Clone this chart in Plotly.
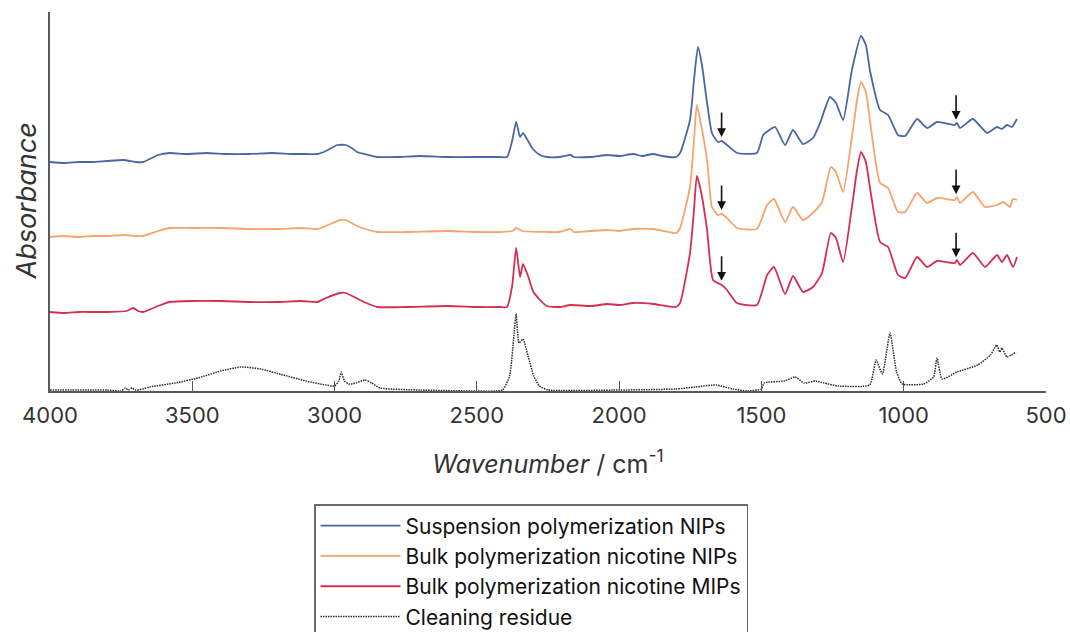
import numpy as np
import plotly.graph_objects as go

# FTIR spectra: wavenumber (cm^-1) and stacked absorbance (a.u.)
susp_wn = [4000, 3950, 3900, 3850, 3800, 3740, 3700, 3673, 3620, 3580, 3520, 3450,
           3380, 3300, 3220, 3150, 3100, 3060, 3030, 2990, 2960, 2935, 2921, 2880,
           2850, 2780, 2700, 2600, 2520, 2420, 2394, 2376, 2362, 2348, 2338, 2320,
           2303, 2278, 2254, 2210, 2170, 2160, 2100, 2040, 2000, 1950, 1920, 1880,
           1850, 1800, 1786, 1751, 1737, 1723, 1709, 1691, 1674, 1653, 1639, 1621,
           1586, 1516, 1494, 1477, 1452, 1417, 1389, 1354, 1319, 1294, 1259, 1238,
           1213, 1182, 1150, 1133, 1119, 1083, 1055, 1020, 995, 953, 918, 883, 820,
           813, 802, 757, 707, 672, 655, 637, 620, 602]
susp_abs = [2.29, 2.28, 2.29, 2.29, 2.30, 2.31, 2.29, 2.29, 2.36, 2.38, 2.37, 2.38,
            2.37, 2.37, 2.38, 2.37, 2.37, 2.37, 2.40, 2.46, 2.46, 2.42, 2.39, 2.36,
            2.34, 2.34, 2.35, 2.34, 2.34, 2.34, 2.34, 2.50, 2.69, 2.54, 2.58, 2.50,
            2.42, 2.36, 2.34, 2.34, 2.36, 2.34, 2.34, 2.36, 2.35, 2.37, 2.35, 2.37,
            2.35, 2.34, 2.38, 2.71, 3.11, 3.44, 3.26, 2.88, 2.58, 2.49, 2.50, 2.46,
            2.38, 2.38, 2.56, 2.60, 2.64, 2.46, 2.61, 2.47, 2.53, 2.68, 2.94, 2.88,
            2.71, 3.21, 3.55, 3.46, 3.21, 2.81, 2.76, 2.56, 2.55, 2.72, 2.63, 2.69,
            2.66, 2.68, 2.63, 2.72, 2.58, 2.64, 2.62, 2.66, 2.64, 2.72]

bulk_nip_wn = [4000, 3950, 3900, 3850, 3800, 3740, 3700, 3673, 3620, 3580, 3500,
               3400, 3300, 3200, 3120, 3060, 3030, 2981, 2960, 2921, 2880, 2850,
               2750, 2600, 2500, 2420, 2375, 2362, 2340, 2254, 2210, 2170, 2160,
               2100, 2040, 2000, 1950, 1880, 1800, 1786, 1751, 1737, 1727, 1712,
               1691, 1674, 1653, 1639, 1621, 1586, 1516, 1480, 1456, 1417, 1389,
               1354, 1319, 1287, 1256, 1238, 1213, 1182, 1164, 1150, 1133, 1119,
               1083, 1055, 1020, 995, 953, 918, 883, 820, 813, 802, 757, 714, 672,
               651, 627, 616, 602]
bulk_nip_abs = [1.54, 1.55, 1.54, 1.55, 1.55, 1.56, 1.55, 1.55, 1.60, 1.63, 1.63,
                1.63, 1.62, 1.62, 1.63, 1.62, 1.65, 1.71, 1.71, 1.65, 1.61, 1.59,
                1.59, 1.60, 1.59, 1.59, 1.60, 1.63, 1.60, 1.59, 1.59, 1.62, 1.59,
                1.60, 1.61, 1.60, 1.62, 1.62, 1.58, 1.63, 2.04, 2.51, 2.86, 2.66,
                2.31, 1.84, 1.76, 1.77, 1.73, 1.63, 1.62, 1.86, 1.92, 1.69, 1.84,
                1.71, 1.78, 1.89, 2.24, 2.19, 1.99, 2.54, 2.91, 3.09, 2.99, 2.71,
                2.08, 2.03, 1.79, 1.79, 1.98, 1.88, 1.93, 1.91, 1.94, 1.88, 1.99,
                1.84, 1.86, 1.89, 1.84, 1.92, 1.91]

bulk_mip_wn = [4000, 3950, 3900, 3850, 3800, 3730, 3708, 3690, 3673, 3620, 3580,
               3500, 3400, 3300, 3200, 3120, 3060, 3030, 2981, 2960, 2911, 2880,
               2850, 2750, 2600, 2500, 2420, 2394, 2376, 2362, 2348, 2338, 2320,
               2303, 2278, 2254, 2210, 2170, 2100, 2040, 2000, 1950, 1880, 1800,
               1786, 1751, 1737, 1727, 1712, 1691, 1670, 1639, 1621, 1586, 1516,
               1480, 1456, 1417, 1389, 1354, 1319, 1287, 1256, 1238, 1213, 1182,
               1164, 1150, 1133, 1119, 1083, 1055, 1020, 995, 953, 918, 883, 820,
               813, 802, 757, 714, 672, 655, 637, 616, 602]
bulk_mip_abs = [0.79, 0.78, 0.79, 0.79, 0.79, 0.80, 0.83, 0.80, 0.79, 0.85, 0.89,
                0.90, 0.90, 0.89, 0.89, 0.90, 0.89, 0.93, 0.98, 0.98, 0.91, 0.87,
                0.84, 0.84, 0.85, 0.84, 0.84, 0.84, 1.05, 1.43, 1.14, 1.27, 1.15,
                1.00, 0.91, 0.85, 0.84, 0.86, 0.85, 0.87, 0.86, 0.88, 0.87, 0.84,
                0.88, 1.38, 1.81, 2.15, 1.99, 1.61, 1.11, 1.06, 1.01, 0.88, 0.86,
                1.16, 1.24, 0.97, 1.15, 0.99, 1.04, 1.18, 1.58, 1.53, 1.29, 1.84,
                2.21, 2.39, 2.29, 2.04, 1.49, 1.44, 1.16, 1.13, 1.34, 1.24, 1.30,
                1.28, 1.31, 1.26, 1.38, 1.24, 1.36, 1.29, 1.36, 1.24, 1.34]

residue_wn = [4000, 3800, 3750, 3735, 3725, 3712, 3700, 3675, 3650, 3560, 3480,
              3400, 3330, 3260, 3180, 3100, 3030, 3000, 2985, 2977, 2965, 2950,
              2925, 2893, 2870, 2840, 2700, 2500, 2410, 2385, 2370, 2362, 2352,
              2338, 2320, 2300, 2280, 2250, 2000, 1800, 1733, 1660, 1600, 1550,
              1500, 1490, 1420, 1381, 1350, 1310, 1280, 1230, 1120, 1097, 1075,
              1048, 1025, 1005, 930, 895, 883, 865, 813, 740, 695, 673, 662, 655,
              637, 605]
residue_abs = [0.01, 0.01, 0.00, 0.03, 0.01, 0.03, 0.01, 0.02, 0.04, 0.08, 0.13,
               0.20, 0.24, 0.22, 0.16, 0.10, 0.06, 0.05, 0.10, 0.19, 0.10, 0.07,
               0.08, 0.11, 0.08, 0.03, 0.01, 0.00, 0.01, 0.15, 0.55, 0.77, 0.48,
               0.52, 0.35, 0.15, 0.05, 0.01, 0.01, 0.02, 0.04, 0.06, 0.02, 0.00,
               0.02, 0.08, 0.10, 0.14, 0.08, 0.10, 0.08, 0.05, 0.06, 0.31, 0.17,
               0.58, 0.19, 0.07, 0.07, 0.14, 0.33, 0.12, 0.19, 0.26, 0.36, 0.46,
               0.39, 0.43, 0.34, 0.39]

series_names = ["Suspension polymerization NIPs",
                "Bulk polymerization nicotine NIPs",
                "Bulk polymerization nicotine MIPs",
                "Cleaning residue"]

# bands marked with arrows on the three polymer spectra
marked_bands = [1640, 816]

tick_values = [4000, 3500, 3000, 2500, 2000, 1500, 1000, 500]

FONT = "Inter, Liberation Sans, Arial, sans-serif"
AXIS_GREY = "#5a5a5a"

spectra = [
    (susp_wn, susp_abs, dict(color="#4a67a1", width=1.8)),
    (bulk_nip_wn, bulk_nip_abs, dict(color="#f6a46b", width=1.8)),
    (bulk_mip_wn, bulk_mip_abs, dict(color="#d42f52", width=1.8)),
    (residue_wn, residue_abs, dict(color="#2b2b2b", width=1.5, dash="1.5px,1px")),
]

fig = go.Figure()
for i, (wn, ab, line) in enumerate(spectra):
    fig.add_trace(go.Scatter(
        x=wn, y=ab, mode="lines", name=series_names[i],
        line=dict(shape="spline", smoothing=0.5, **line),
    ))

# downward arrows just above each marked band on the polymer spectra
for wn, ab, _ in spectra[:3]:
    order = np.argsort(wn)
    xs = np.asarray(wn, float)[order]
    ys = np.asarray(ab, float)[order]
    for band in marked_bands:
        y_tip = float(np.interp(band, xs, ys)) + 0.04
        fig.add_annotation(
            x=band, y=y_tip, xref="x", yref="y", text="", showarrow=True,
            ax=0, ay=-26, arrowhead=2, arrowsize=1.1, arrowwidth=1.6,
            arrowcolor="#111111",
        )

# y-axis title (the axis carries no tick labels)
fig.add_annotation(
    text="<i>Absorbance</i>", xref="paper", yref="paper",
    x=(26 - 50) / 996, y=0.5, xanchor="center", yanchor="middle",
    textangle=-90, showarrow=False,
    font=dict(family=FONT, size=27, color="#333333"),
)

fig.update_layout(
    width=1070, height=632,
    margin=dict(l=50, r=24, t=12, b=241, autoexpand=False),
    paper_bgcolor="white", plot_bgcolor="white",
    font=dict(family=FONT, color="#222222"),
    showlegend=True,
    legend=dict(
        xref="container", yref="container",
        x=314 / 1070, y=1 - 504 / 632, xanchor="left", yanchor="top",
        bordercolor="#6a6a6a", borderwidth=1.5, bgcolor="white",
        font=dict(family=FONT, size=21, color="#111111"),
        tracegroupgap=0, itemwidth=80,
    ),
    xaxis=dict(
        range=[4000, 500], autorange=False,
        tickvals=tick_values, ticktext=[str(v) for v in tick_values],
        ticks="inside", ticklen=10, tickwidth=1.3, tickcolor=AXIS_GREY,
        showline=True, linecolor=AXIS_GREY, linewidth=1.5,
        showgrid=False, zeroline=False, mirror=False,
        tickfont=dict(family=FONT, size=22, color="#333333"),
        ticklabelstandoff=4,
        title=dict(text="<i>Wavenumber</i> / cm<sup>-1</sup>",
                   font=dict(family=FONT, size=25, color="#333333"),
                   standoff=28),
    ),
    yaxis=dict(
        range=[0, 3.79], autorange=False,
        showticklabels=False, ticks="",
        showline=True, linecolor=AXIS_GREY, linewidth=1.5,
        showgrid=False, zeroline=False,
    ),
)

fig.write_html("out.html")
